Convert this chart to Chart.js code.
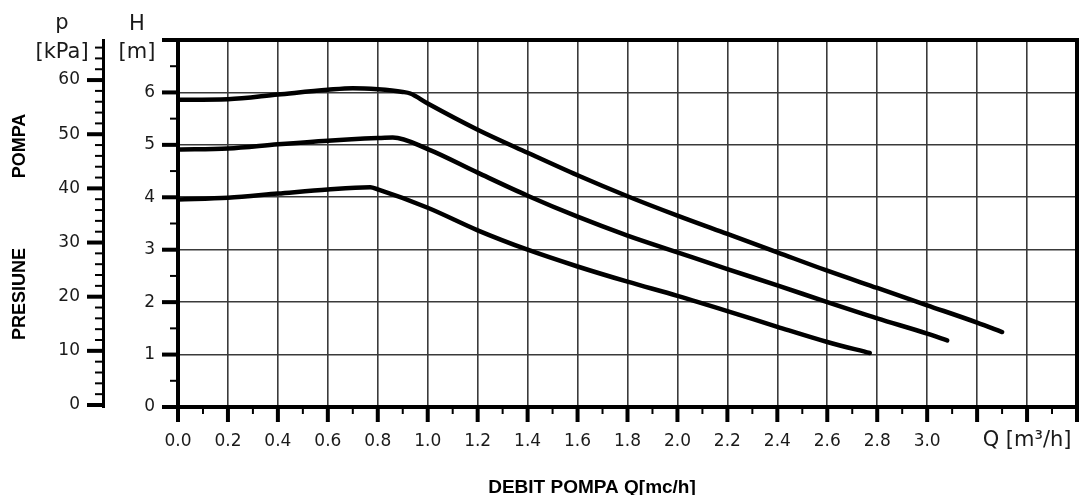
<!DOCTYPE html>
<html>
<head>
<meta charset="utf-8">
<script src="https://cdn.jsdelivr.net/npm/chart.js@4.4.1/dist/chart.umd.min.js"></script>
<style>
  html, body { margin: 0; padding: 0; background: #fff; }
  #wrap { width: 1079px; height: 495px; }
</style>
</head>
<body>
<div id="wrap"><canvas id="pump"></canvas></div>
<script>
// pump curves: Q in m3/h, H in m (three speed steps)
const qHigh = [0.0, 0.2, 0.4, 0.6, 0.7, 0.8, 0.9, 0.93, 1.0, 1.2, 1.4, 1.6, 1.8, 2.0, 2.2, 2.4, 2.6, 2.8, 3.0, 3.2, 3.3];
const hHigh = [5.86, 5.87, 5.96, 6.05, 6.08, 6.06, 6.01, 5.98, 5.79, 5.29, 4.85, 4.42, 4.02, 3.65, 3.30, 2.95, 2.60, 2.27, 1.94, 1.61, 1.43];

const qMid = [0.0, 0.2, 0.4, 0.6, 0.8, 0.86, 1.0, 1.2, 1.4, 1.6, 1.8, 2.0, 2.2, 2.4, 2.6, 2.8, 3.0, 3.08];
const hMid = [4.91, 4.93, 5.01, 5.08, 5.13, 5.14, 4.92, 4.47, 4.03, 3.63, 3.27, 2.95, 2.63, 2.32, 2.00, 1.69, 1.40, 1.27];

const qLow = [0.0, 0.2, 0.4, 0.6, 0.77, 0.8, 1.0, 1.2, 1.4, 1.6, 1.8, 2.0, 2.2, 2.4, 2.6, 2.77];
const hLow = [3.96, 3.99, 4.07, 4.15, 4.19, 4.15, 3.80, 3.37, 3.00, 2.68, 2.39, 2.12, 1.83, 1.53, 1.24, 1.03];

// axis ticks
const qTicks = [0, 0.1, 0.2, 0.3, 0.4, 0.5, 0.6, 0.7, 0.8, 0.9, 1.0, 1.1, 1.2, 1.3, 1.4, 1.5, 1.6, 1.7, 1.8,
                1.9, 2.0, 2.1, 2.2, 2.3, 2.4, 2.5, 2.6, 2.7, 2.8, 2.9, 3.0, 3.1, 3.2, 3.3, 3.4, 3.5, 3.6];
const hTicks = [0, 0.5, 1, 1.5, 2, 2.5, 3, 3.5, 4, 4.5, 5, 5.5, 6, 6.5, 7];
const kpaTicks = [0, 2, 4, 6, 8, 10, 12, 14, 16, 18, 20, 22, 24, 26, 28, 30, 32, 34, 36, 38, 40,
                  42, 44, 46, 48, 50, 52, 54, 56, 58, 60, 62, 64, 66];
const lastQLabel = 3.0;

const ink = '#1a1a1a';
const grid = '#3a3a3a';
const tickFont = { family: 'DejaVu Sans', size: 17 };

function toPoints(qs, hs) {
    return qs.map((q, i) => ({ x: q, y: hs[i] }));
}
function isMajorQ(v) {
    return Math.round(v * 10) % 2 === 0;
}

function curve(qs, hs) {
    return {
        data: toPoints(qs, hs),
        borderColor: '#000',
        borderWidth: 4.5,
        borderCapStyle: 'round',
        pointRadius: 0,
        cubicInterpolationMode: 'monotone',
        fill: false,
        yAxisID: 'h'
    };
}

// tick marks (long major / short minor), frame and the loose texts
const decorations = {
    id: 'decorations',
    afterDraw(chart) {
        const ctx = chart.ctx;
        const { x, h, kpa } = chart.scales;
        const area = chart.chartArea;
        ctx.save();
        ctx.strokeStyle = '#000';

        function mark(x1, y1, x2, y2, w) {
            ctx.lineWidth = w;
            ctx.beginPath();
            ctx.moveTo(x1, y1);
            ctx.lineTo(x2, y2);
            ctx.stroke();
        }

        // top and right frame
        ctx.lineWidth = 4;
        ctx.beginPath();
        ctx.moveTo(area.left, area.top);
        ctx.lineTo(area.right, area.top);
        ctx.lineTo(area.right, area.bottom + 2);
        ctx.stroke();

        qTicks.forEach(v => {
            const px = x.getPixelForValue(v);
            const major = isMajorQ(v);
            mark(px, area.bottom, px, area.bottom + (major ? 15 : 7), major ? 4 : 2);
        });
        hTicks.forEach(v => {
            const py = h.getPixelForValue(v);
            const major = Number.isInteger(v);
            mark(h.right - (major ? 16 : 8), py, h.right, py, major ? 4 : 2);
        });
        kpaTicks.forEach(v => {
            const py = kpa.getPixelForValue(v);
            const major = v % 10 === 0;
            mark(kpa.right - (major ? 16 : 8), py, kpa.right, py, major ? 4 : 2);
        });

        ctx.fillStyle = ink;
        ctx.textAlign = 'center';
        ctx.textBaseline = 'alphabetic';
        ctx.font = '21px "DejaVu Sans"';
        ctx.fillText('p', kpa.right - 41, 29);
        ctx.fillText('[kPa]', kpa.right - 41, 58);
        ctx.fillText('H', h.right - 41, 30);
        ctx.fillText('[m]', h.right - 41, 58);
        ctx.fillText('Q [m\u00b3/h]', x.getPixelForValue(3.4), 446);

        ctx.fillStyle = '#000';
        ctx.font = 'bold 19px "Liberation Sans"';
        ctx.fillText('DEBIT POMPA Q[mc/h]', 592, 493);

        ctx.translate(25, 146);
        ctx.rotate(-Math.PI / 2);
        ctx.font = 'bold 18px "Liberation Sans"';
        ctx.fillText('POMPA', 0, 0);
        ctx.rotate(Math.PI / 2);
        ctx.translate(0, 148);
        ctx.rotate(-Math.PI / 2);
        ctx.fillText('PRESIUNE', 0, 0);
        ctx.restore();
    }
};

new Chart(document.getElementById('pump'), {
    type: 'line',
    data: {
        datasets: [curve(qHigh, hHigh), curve(qMid, hMid), curve(qLow, hLow)]
    },
    options: {
        responsive: true,
        maintainAspectRatio: false,
        animation: false,
        layout: { autoPadding: false, padding: { top: 40, right: 2, left: 0, bottom: 0 } },
        plugins: { legend: { display: false }, tooltip: { enabled: false } },
        scales: {
            x: {
                type: 'linear',
                min: 0,
                max: 3.6,
                afterBuildTicks: s => { s.ticks = qTicks.map(v => ({ value: v })); },
                afterFit: s => { s.height = 88; s.paddingLeft = 0; s.paddingRight = 0; },
                border: { color: '#000', width: 4 },
                grid: {
                    drawTicks: false,
                    tickLength: 0,
                    lineWidth: 1.6,
                    color: c => (c.tick && isMajorQ(c.tick.value)) ? grid : 'rgba(0,0,0,0)'
                },
                ticks: {
                    autoSkip: false,
                    maxRotation: 0,
                    padding: 24,
                    color: ink,
                    font: tickFont,
                    callback: v => (isMajorQ(v) && v <= lastQLabel + 1e-6) ? v.toFixed(1) : ''
                }
            },
            h: {
                type: 'linear',
                position: 'left',
                weight: 0,
                min: 0,
                max: 7,
                afterBuildTicks: s => { s.ticks = hTicks.map(v => ({ value: v })); },
                afterFit: s => { s.width = 75; },
                border: { color: '#000', width: 4 },
                grid: {
                    drawTicks: false,
                    tickLength: 0,
                    lineWidth: 1.6,
                    color: c => (c.tick && Number.isInteger(c.tick.value) && c.tick.value > 0 && c.tick.value < 7) ? grid : 'rgba(0,0,0,0)'
                },
                ticks: {
                    autoSkip: false,
                    padding: 23,
                    color: ink,
                    font: tickFont,
                    callback: v => (Number.isInteger(v) && v < 7) ? String(v) : ''
                }
            },
            kpa: {
                type: 'linear',
                position: 'left',
                weight: 10,
                min: -0.37,
                max: 67.4,
                afterBuildTicks: s => { s.ticks = kpaTicks.map(v => ({ value: v })); },
                afterFit: s => { s.width = 103; },
                border: { color: '#000', width: 3 },
                grid: { display: false, drawTicks: false, tickLength: 0 },
                ticks: {
                    autoSkip: false,
                    padding: 23,
                    color: ink,
                    font: tickFont,
                    callback: v => (v % 10 === 0) ? String(v) : ''
                }
            }
        }
    },
    plugins: [decorations]
});
</script>
</body>
</html>
